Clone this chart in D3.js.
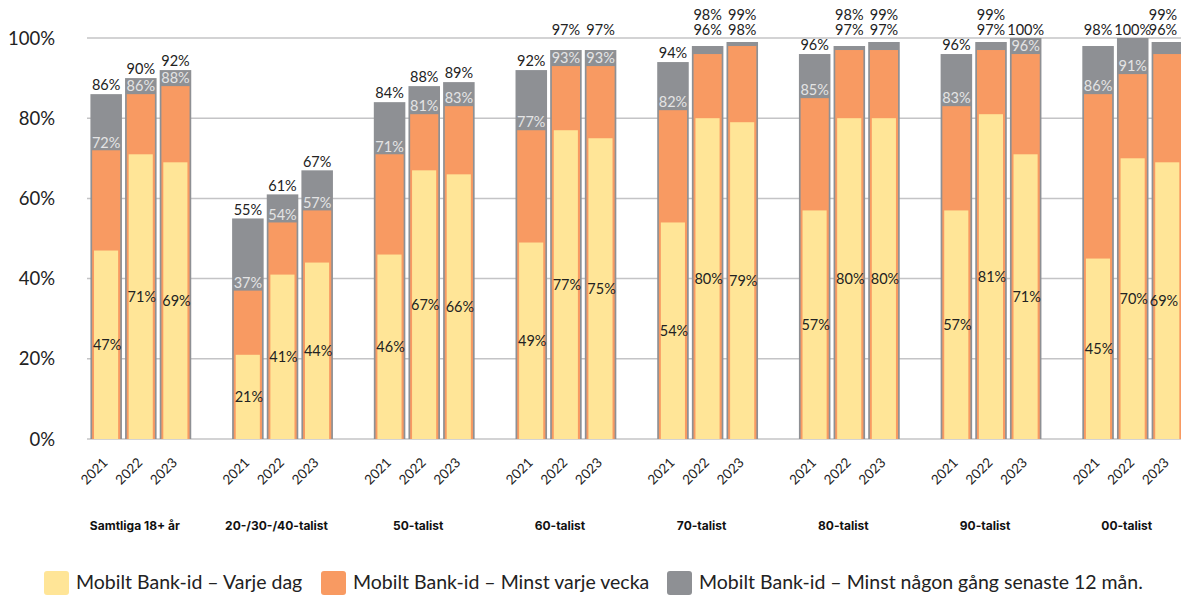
<!DOCTYPE html>
<html><head><meta charset="utf-8">
<script src="https://cdn.jsdelivr.net/npm/d3@7"></script>
<style>
html,body{margin:0;padding:0;background:#fff;}
svg{display:block;}
</style></head>
<body>
<svg id="chart" width="1181" height="595"></svg>
<script>
const groups = ["Samtliga 18+ år","20-/30-/40-talist","50-talist","60-talist","70-talist","80-talist","90-talist","00-talist"];
const years = ["2021","2022","2023"];
// values per group, in year order
const dagligen = [[47,71,69],[21,41,44],[46,67,66],[49,77,75],[54,80,79],[57,80,80],[57,81,71],[45,70,69]];
const veckovis = [[72,86,88],[37,54,57],[71,81,83],[77,93,93],[82,96,98],[85,97,97],[83,97,96],[86,91,96]];
const arsvis   = [[86,90,92],[55,61,67],[84,88,89],[92,97,97],[94,98,99],[96,98,99],[96,99,100],[98,100,99]];
const yTicks = [0,20,40,60,80,100];
const seriesNames = ["Mobilt Bank-id – Varje dag","Mobilt Bank-id – Minst varje vecka","Mobilt Bank-id – Minst någon gång senaste 12 mån."];
const colors = ["#FFE597","#F89A62","#8E9094"];

const svg = d3.select("#chart");
const font = "Lato, 'Open Sans', sans-serif";
const plotLeft = 87, plotRight = 1181;
const y = d3.scaleLinear().domain([0,100]).range([439,38]);
const xg = d3.scaleBand().domain(groups).range([87.3, 87.3 + 8*141.7]).padding(0);
const xi = d3.scaleBand().domain([...years, "gap"]).range([0, xg.bandwidth()]).padding(0.09);

// gridlines
svg.append("g").selectAll("line").data(yTicks).join("line")
  .attr("x1", plotLeft).attr("x2", plotRight)
  .attr("y1", d=>y(d)).attr("y2", d=>y(d))
  .attr("stroke", "#c4c4c6").attr("stroke-width", 1.5);

// y labels
svg.append("g").selectAll("text").data(yTicks).join("text")
  .attr("x", 55).attr("y", d=>y(d)).attr("dy","0.36em")
  .attr("text-anchor","end")
  .attr("font-family", font).attr("font-size", 18.5).attr("fill","#222")
  .text(d=>d+"%");

const rows = [];
groups.forEach((g,gi)=>{
  years.forEach((yr,yi)=>{
    rows.push({g, gi, yr, yi, d: dagligen[gi][yi], v: veckovis[gi][yi], a: arsvis[gi][yi],
      x: xg(g) + xi(yr), w: xi.bandwidth()});
  });
});

const bars = svg.append("g");
rows.forEach(r=>{
  bars.append("rect").attr("x", r.x).attr("width", r.w)
    .attr("y", y(r.a)).attr("height", y(0)-y(r.a)).attr("fill", colors[2]);
  bars.append("rect").attr("x", r.x+1.7).attr("width", r.w-3.4)
    .attr("y", y(r.v)).attr("height", y(0)-y(r.v)).attr("fill", colors[1]);
  bars.append("rect").attr("x", r.x+3.6).attr("width", r.w-7.4)
    .attr("y", y(r.d)).attr("height", y(0)-y(r.d)).attr("fill", colors[0]);
});

// value labels
const lab = svg.append("g").attr("font-family", font).attr("font-size", 14.5).attr("text-anchor","middle");
const plotTop = y(100);
rows.forEach(r=>{
  const cx = Math.min(r.x + r.w/2, 1163);
  // yellow
  lab.append("text").attr("x", cx+1).attr("y", (y(r.d)+y(0))/2).attr("dy","0.36em")
    .attr("fill","#222").text(r.d+"%");
  // orange
  const oc = y(r.v) - 8;
  const orangeInside = (oc - 7) >= y(r.a);
  let gc = y(r.a) - 9;
  const above = [];
  if (orangeInside) {
    lab.append("text").attr("x", cx).attr("y", oc).attr("dy","0.36em")
      .attr("fill","#e4e4e4").text(r.v+"%");
  } else {
    above.push(r.v+"%");
  }
  if (!orangeInside || gc - 7 < plotTop) {
    above.push(r.a+"%");
  } else {
    lab.append("text").attr("x", cx).attr("y", gc).attr("dy","0.36em")
      .attr("fill","#222").text(r.a+"%");
  }
  above.forEach((t,i)=>{
    lab.append("text").attr("x", cx).attr("y", 30 - i*15).attr("dy","0.36em")
      .attr("fill","#222").text(t);
  });
});

// year labels
const yl = svg.append("g").attr("font-family", font).attr("font-size", 13.5).attr("fill","#222");
rows.forEach(r=>{
  const cx = r.x + r.w/2;
  yl.append("text").attr("text-anchor","end")
    .attr("transform", `translate(${cx-1},${460}) rotate(-45)`)
    .attr("dy","0.36em").text(r.yr);
});

// group labels
svg.append("g").selectAll("text").data(groups).join("text")
  .attr("x", d=>xg(d) + xi("2022") + xi.bandwidth()/2 - 6)
  .attr("y", 526).attr("dy","0.36em").attr("text-anchor","middle")
  .attr("font-family", "Inter, Lato, sans-serif").attr("font-weight", 700).attr("font-size", 12)
  .attr("fill","#111").text(d=>d);

// legend
const legX = [44, 321, 667];
const leg = svg.append("g");
seriesNames.forEach((s,i)=>{
  leg.append("rect").attr("x", legX[i]).attr("y", 571).attr("width", 25).attr("height", 24)
    .attr("rx", 3).attr("fill", colors[i]);
  leg.append("text").attr("x", legX[i]+32).attr("y", 589)
    .attr("font-family", "Lato, sans-serif").attr("font-size", 19.5).attr("fill","#222")
    .text(s);
});
</script>
</body></html>
